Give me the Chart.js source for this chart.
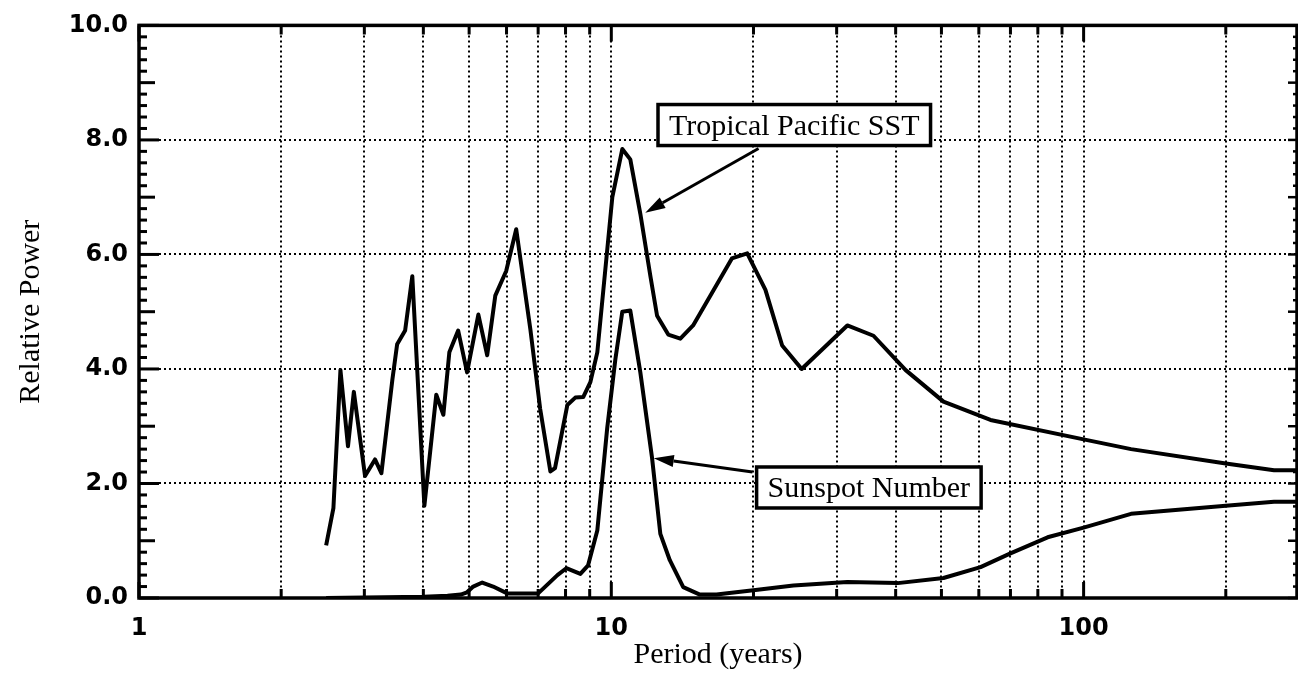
<!DOCTYPE html>
<html>
<head>
<meta charset="utf-8">
<script src="https://cdn.jsdelivr.net/npm/chart.js@4.4.0/dist/chart.umd.min.js"></script>
<style>
	html, body { margin: 0; padding: 0; background: #fff; }
	canvas { display: block; }
</style>
</head>
<body>
<canvas id="chart1" width="1298" height="688"></canvas>
<script>
// power spectra

const sstPeriod = [2.49, 2.58, 2.67, 2.77, 2.85, 3.01, 3.16, 3.26, 3.44, 3.52, 3.66, 3.79, 4.02, 4.26, 4.41, 4.54, 4.74, 4.95,
	5.23, 5.46, 5.68, 5.99, 6.29, 6.74, 7.07, 7.43, 7.6, 8.07, 8.39, 8.72, 9.03, 9.34, 10.05, 10.55, 10.97, 11.52, 12.1,
	12.5, 13.2, 14.0, 14.9, 18.0, 19.4, 21.2, 23.0, 25.3, 31.6, 35.9, 42.0, 50.5, 63.5, 100, 126, 200, 253, 283];
const sstPower = [0.92, 1.57, 3.98, 2.65, 3.6, 2.13, 2.42, 2.18, 3.82, 4.43, 4.67, 5.62, 1.61, 3.55, 3.2, 4.29, 4.67, 3.94,
	4.95, 4.24, 5.28, 5.71, 6.44, 4.69, 3.3, 2.21, 2.27, 3.37, 3.5, 3.51, 3.77, 4.29, 7.0, 7.84, 7.66, 6.71, 5.62,
	4.93, 4.6, 4.53, 4.76, 5.93, 6.02, 5.38, 4.41, 4.0, 4.76, 4.58, 3.98, 3.43, 3.11, 2.77, 2.6, 2.35, 2.23, 2.23];

const sunPeriod = [2.49, 3.0, 4.0, 4.5, 4.8, 4.95, 5.1, 5.33, 5.62, 6.02, 7.0, 7.69, 8.03, 8.6, 8.93, 9.34, 9.8, 10.2,
	10.55, 10.97, 11.52, 12.2, 12.7, 13.3, 14.2, 15.4, 16.7, 20.2, 24.3, 31.6, 40.4, 50.5, 60.5, 70, 83.9, 100, 126,
	200, 253, 283];
const sunPower = [0, 0.01, 0.02, 0.04, 0.06, 0.1, 0.2, 0.27, 0.2, 0.08, 0.08, 0.4, 0.52, 0.42, 0.57, 1.18, 2.96, 4.17,
	5.0, 5.02, 3.94, 2.44, 1.12, 0.66, 0.19, 0.06, 0.06, 0.14, 0.22, 0.28, 0.26, 0.35, 0.54, 0.78, 1.06, 1.23, 1.47,
	1.61, 1.68, 1.68];

const xLabels = [1, 10, 100];
const xGrid = [1, 2, 3, 4, 5, 6, 7, 8, 9, 10, 20, 30, 40, 50, 60, 70, 80, 90, 100, 200];
const yLabels = [0, 2, 4, 6, 8, 10];

// callouts: [text, box centre x, y, arrow start x, y, arrow tip x, y] in data units
const notes = [
	["Tropical Pacific SST", 24.4, 8.26, 20.5, 7.85, 11.8, 6.73],
	["Sunspot Number", 35.1, 1.93, 19.9, 2.2, 12.3, 2.44]
];

const toPoints = (xs, ys) => xs.map((x, i) => ({ x: x, y: ys[i] }));

// inward tick marks and the heavy frame
const frame = {
	id: 'frame',
	afterDraw(chart) {
		const { ctx, chartArea: a, scales } = chart;
		const xs = scales.x, ys = scales.y;
		ctx.save();
		ctx.strokeStyle = '#000';
		ctx.lineCap = 'butt';

		ctx.lineWidth = 3;
		xGrid.forEach(v => {
			const px = xs.getPixelForValue(v);
			const len = xLabels.includes(v) ? 16 : 9;
			ctx.beginPath();
			ctx.moveTo(px, a.bottom); ctx.lineTo(px, a.bottom - len);
			ctx.moveTo(px, a.top); ctx.lineTo(px, a.top + len);
			ctx.stroke();
		});

		for (let i = 0; i <= 50; i++) {
			const v = i / 5;
			const py = ys.getPixelForValue(v);
			const len = i % 10 === 0 ? 20 : (i % 5 === 0 ? 16 : 8);
			ctx.lineWidth = 3;
			ctx.beginPath();
			ctx.moveTo(a.left, py); ctx.lineTo(a.left + len, py);
			ctx.stroke();
			ctx.lineWidth = 2.5;
			ctx.beginPath();
			ctx.moveTo(a.right, py); ctx.lineTo(a.right - (i % 5 === 0 ? 9 : 4), py);
			ctx.stroke();
		}

		ctx.lineWidth = 3.5;
		ctx.strokeRect(a.left, a.top, a.right - a.left, a.bottom - a.top);
		ctx.restore();
	}
};

const callouts = {
	id: 'callouts',
	afterDraw(chart) {
		const { ctx, scales } = chart;
		const px = v => scales.x.getPixelForValue(v);
		const py = v => scales.y.getPixelForValue(v);
		ctx.save();
		ctx.font = '30px "Liberation Serif"';
		ctx.textAlign = 'center';
		ctx.textBaseline = 'middle';
		notes.forEach(n => {
			const [text, bx, by, sx, sy, tx, ty] = n;
			const x0 = px(sx), y0 = py(sy), x1 = px(tx), y1 = py(ty);
			const ang = Math.atan2(y1 - y0, x1 - x0);
			const hl = 20, hw = 6;
			const baseX = x1 - hl * Math.cos(ang), baseY = y1 - hl * Math.sin(ang);
			ctx.strokeStyle = '#000';
			ctx.fillStyle = '#000';
			ctx.lineWidth = 3;
			ctx.beginPath();
			ctx.moveTo(x0, y0); ctx.lineTo(baseX, baseY);
			ctx.stroke();
			ctx.beginPath();
			ctx.moveTo(x1, y1);
			ctx.lineTo(baseX + hw * Math.sin(ang), baseY - hw * Math.cos(ang));
			ctx.lineTo(baseX - hw * Math.sin(ang), baseY + hw * Math.cos(ang));
			ctx.closePath();
			ctx.fill();

			const cx = px(bx), cy = py(by);
			const w = ctx.measureText(text).width + 22, h = 41;
			ctx.fillStyle = '#fff';
			ctx.fillRect(cx - w / 2, cy - h / 2, w, h);
			ctx.lineWidth = 3.5;
			ctx.strokeRect(cx - w / 2, cy - h / 2, w, h);
			ctx.fillStyle = '#000';
			ctx.fillText(text, cx, cy + 2);
		});
		ctx.restore();
	}
};

const tickFont = { family: 'DejaVu Sans', size: 24, weight: 'bold' };
const titleFont = { family: 'Liberation Serif', size: 30 };

new Chart(document.getElementById('chart1'), {
	type: 'line',
	data: {
		datasets: [{
			label: 'Tropical Pacific SST',
			data: toPoints(sstPeriod, sstPower),
			borderColor: '#000',
			borderWidth: 4,
			pointRadius: 0,
			tension: 0,
			borderJoinStyle: 'round'
		}, {
			label: 'Sunspot Number',
			data: toPoints(sunPeriod, sunPower),
			borderColor: '#000',
			borderWidth: 4,
			pointRadius: 0,
			tension: 0,
			borderJoinStyle: 'round'
		}]
	},
	options: {
		responsive: false,
		animation: false,
		devicePixelRatio: 1,
		layout: { padding: { top: 20, right: 1, left: 0, bottom: 0 } },
		plugins: { legend: { display: false }, tooltip: { enabled: false } },
		scales: {
			x: {
				type: 'logarithmic',
				min: 1,
				max: 283,
				afterBuildTicks: s => { s.ticks = xGrid.map(v => ({ value: v })); },
				afterFit: s => { s.height = 90; },
				ticks: {
					autoSkip: false,
					maxRotation: 0,
					padding: 16,
					color: '#000',
					font: tickFont,
					callback: v => xLabels.includes(v) ? String(v) : ''
				},
				grid: {
					drawTicks: false,
					lineWidth: 2,
					color: c => c.tick && c.tick.value === 1 ? 'rgba(0,0,0,0)' : '#000'
				},
				border: { display: false, dash: [2, 3] },
				title: { display: true, text: 'Period (years)', color: '#000', font: titleFont, padding: { top: 0, bottom: 15 } }
			},
			y: {
				min: 0,
				max: 10,
				afterBuildTicks: s => { s.ticks = yLabels.map(v => ({ value: v })); },
				afterFit: s => { s.width = 139; },
				ticks: {
					padding: 11,
					color: '#000',
					font: tickFont,
					callback: v => v.toFixed(1)
				},
				grid: {
					drawTicks: false,
					lineWidth: 2,
					color: c => c.tick && (c.tick.value === 0 || c.tick.value === 10) ? 'rgba(0,0,0,0)' : '#000'
				},
				border: { display: false, dash: [2, 3] },
				title: { display: true, text: 'Relative Power', color: '#000', font: titleFont, padding: { top: 13, bottom: 0 } }
			}
		}
	},
	plugins: [frame, callouts]
});
</script>
</body>
</html>
